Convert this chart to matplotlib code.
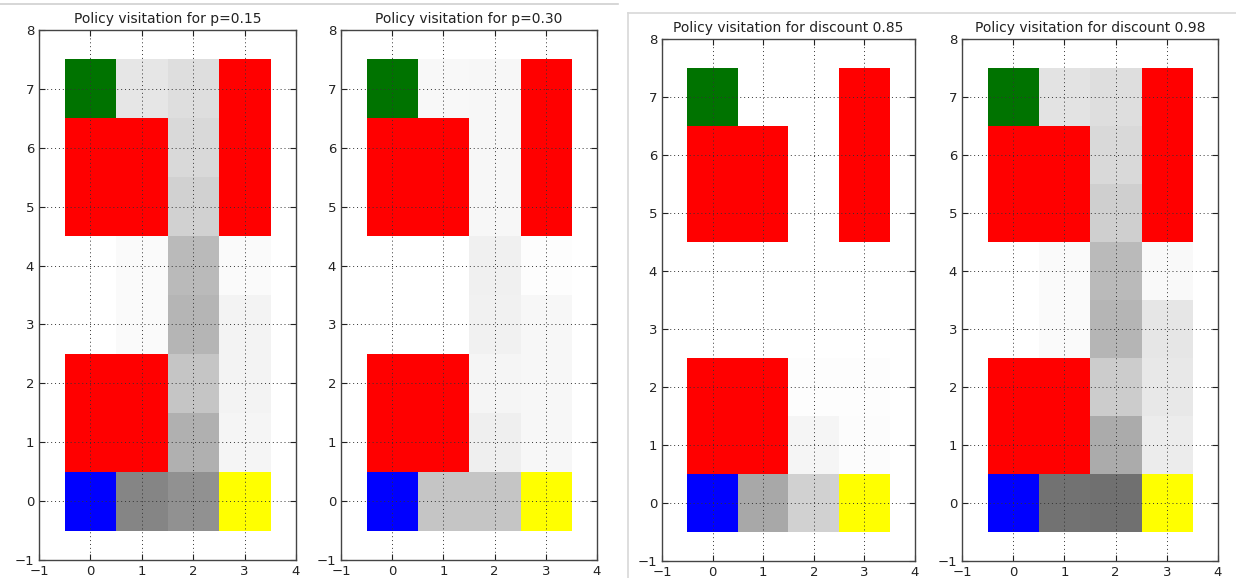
import numpy as np
import matplotlib
matplotlib.use("Agg")
import matplotlib.pyplot as plt
from matplotlib.colors import to_rgb
from matplotlib.lines import Line2D

# grid layout, top row first: G=goal, S=start, Y=exit, R=trap, .=free
layout = [
    "G..R",
    "RR.R",
    "RR.R",
    "....",
    "....",
    "RR..",
    "RR..",
    "S..Y",
]
cell_colors = {"G": "#007300", "S": "#0000ff", "Y": "#ffff00", "R": "#ff0000"}

titles = [
    "Policy visitation for p=0.15",
    "Policy visitation for p=0.30",
    "Policy visitation for discount 0.85",
    "Policy visitation for discount 0.98",
]

# visitation frequency per cell (0 = never, 1 = always), top row first
visits_p015 = [
    [0.00, 0.10, 0.13, 0.00],
    [0.00, 0.00, 0.15, 0.00],
    [0.00, 0.00, 0.18, 0.00],
    [0.00, 0.02, 0.27, 0.02],
    [0.00, 0.02, 0.29, 0.05],
    [0.00, 0.00, 0.23, 0.05],
    [0.00, 0.00, 0.31, 0.04],
    [0.00, 0.48, 0.43, 0.00],
]
visits_p030 = [
    [0.00, 0.03, 0.035, 0.00],
    [0.00, 0.00, 0.035, 0.00],
    [0.00, 0.00, 0.035, 0.00],
    [0.00, 0.00, 0.06, 0.01],
    [0.00, 0.00, 0.055, 0.035],
    [0.00, 0.00, 0.04, 0.035],
    [0.00, 0.00, 0.065, 0.035],
    [0.00, 0.23, 0.23, 0.00],
]
visits_d085 = [
    [0.00, 0.00, 0.00, 0.00],
    [0.00, 0.00, 0.00, 0.00],
    [0.00, 0.00, 0.00, 0.00],
    [0.00, 0.00, 0.00, 0.00],
    [0.00, 0.00, 0.00, 0.00],
    [0.00, 0.00, 0.01, 0.01],
    [0.00, 0.00, 0.04, 0.015],
    [0.00, 0.34, 0.18, 0.00],
]
visits_d098 = [
    [0.00, 0.11, 0.13, 0.00],
    [0.00, 0.00, 0.15, 0.00],
    [0.00, 0.00, 0.19, 0.00],
    [0.00, 0.02, 0.27, 0.025],
    [0.00, 0.02, 0.29, 0.10],
    [0.00, 0.00, 0.20, 0.09],
    [0.00, 0.00, 0.33, 0.075],
    [0.00, 0.55, 0.56, 0.00],
]
all_visits = [visits_p015, visits_p030, visits_d085, visits_d098]

plt.rcParams['font.family'] = ['DejaVu Sans']
fig = plt.figure(figsize=(12.36, 5.78), dpi=100)
W, H = 1236.0, 578.0

# axes boxes in pixels: left, top, right, bottom
boxes = [(39, 30, 296, 560), (341, 30, 597, 560),
         (662, 39, 915, 561), (962, 39, 1218, 561)]

cmap = plt.get_cmap('gray_r')
for box, title, visits in zip(boxes, titles, all_visits):
    l, t, r, b = box
    ax = fig.add_axes([l / W, 1 - b / H, (r - l) / W, (b - t) / H])
    img = cmap(np.clip(np.array(visits), 0, 1))[..., :3]
    for i, row in enumerate(layout):
        for j, c in enumerate(row):
            if c in cell_colors:
                img[i, j] = to_rgb(cell_colors[c])
    # flip so row 0 is y=0 with origin lower
    ax.imshow(img[::-1], origin='lower', extent=(-0.5, 3.5, -0.5, 7.5),
              interpolation='nearest', aspect='auto')
    ax.set_xlim(-1, 4)
    ax.set_ylim(-1, 8)
    ax.set_xticks(range(-1, 5))
    ax.set_yticks(range(-1, 9))
    ax.grid(True, color='#333333', linestyle=(0, (1, 3)), linewidth=0.7)
    for sp in ax.spines.values():
        sp.set_color('#444444')
        sp.set_linewidth(1.0)
    ax.tick_params(direction='in', top=True, right=True, labelsize=9.5,
                   length=4, colors='#222222')
    ax.set_title(title, fontsize=10, pad=5, color='#222222')

# frame lines between the two screenshots
fig.add_artist(Line2D([0, 618 / W], [1 - 4 / H, 1 - 4 / H], color='#d0d0d0', lw=1.2))
fig.add_artist(Line2D([628 / W, 1], [1 - 13 / H, 1 - 13 / H], color='#d8d8d8', lw=1.2))
fig.add_artist(Line2D([628 / W, 628 / W], [0, 1 - 13 / H], color='#d8d8d8', lw=1.2))

fig.savefig('out.png', dpi=100)
